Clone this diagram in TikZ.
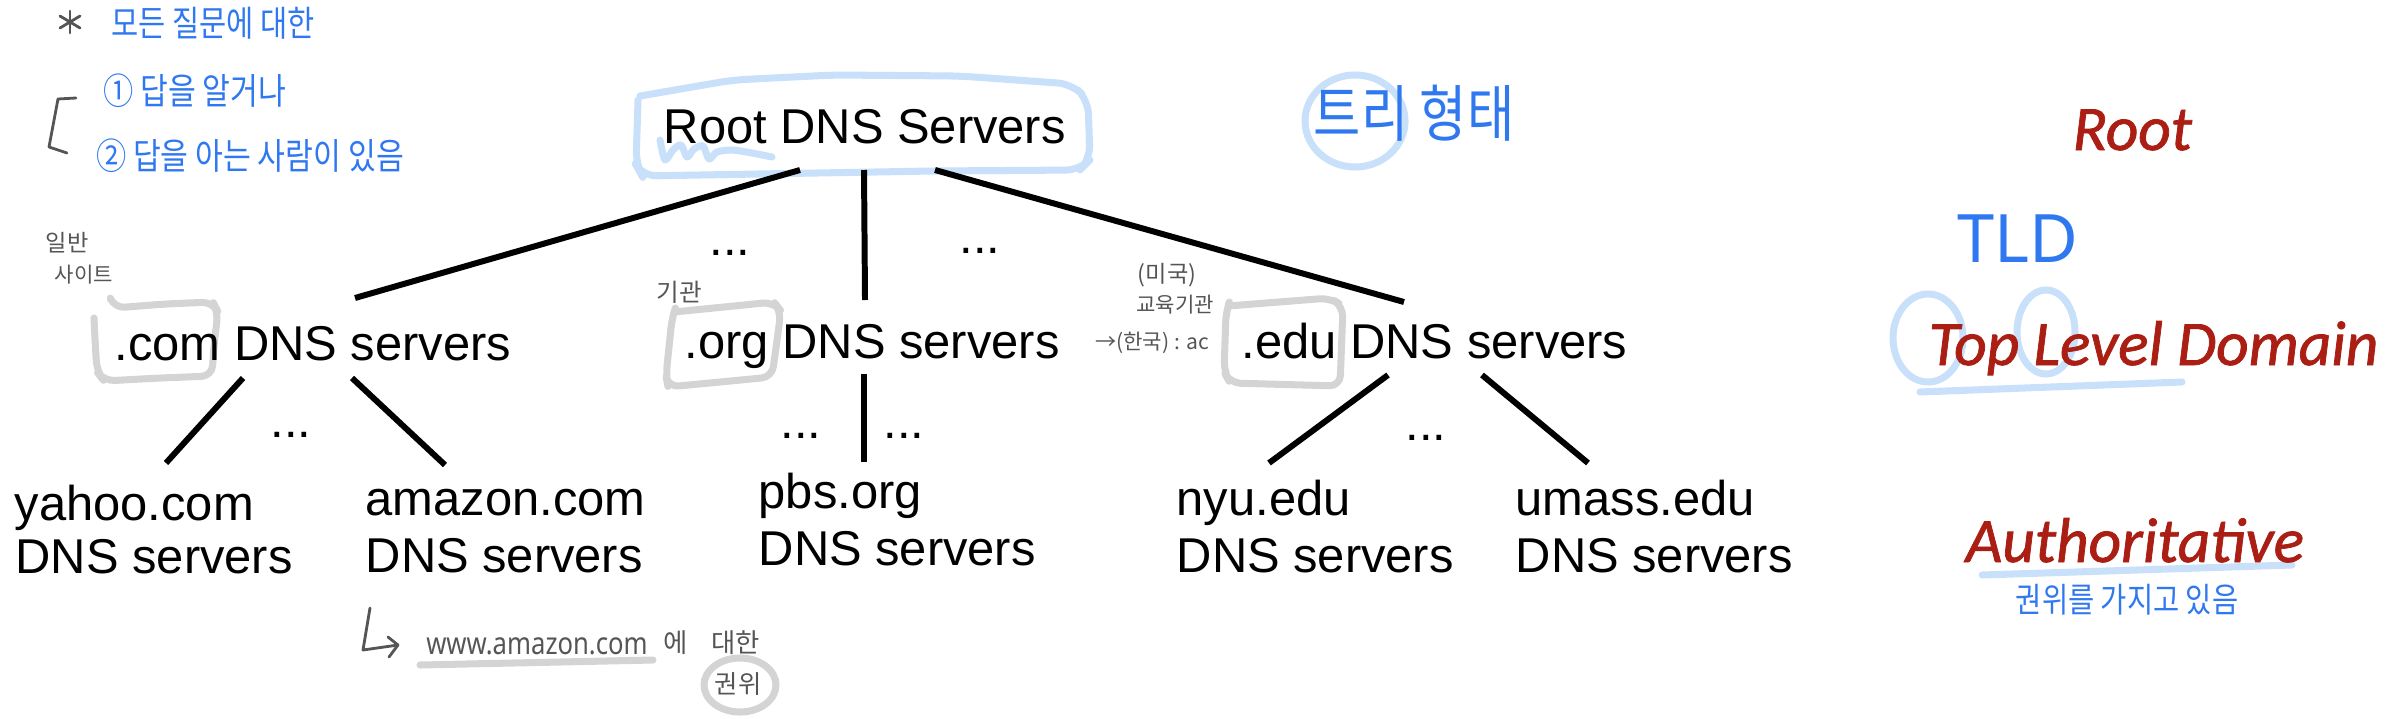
\documentclass[tikz,border=0pt]{standalone}
\usepackage{fontspec}
\setmainfont{Liberation Sans}
\newfontfamily\kr{Noto Sans CJK KR}
\newfontfamily\carlsemi{Carlito}[FakeBold=1.2]
\newfontfamily\nsans{Noto Sans}
\usetikzlibrary{calc}
\definecolor{pen}{RGB}{47,120,240}
\definecolor{hl}{RGB}{200,224,250}
\definecolor{gpen}{RGB}{85,85,85}
\definecolor{ghl}{RGB}{212,212,212}
\definecolor{dred}{RGB}{170,30,20}
\newcommand\tallnote[1]{\scalebox{1}[1.2]{#1}}
\tikzset{
  lbl/.style={inner sep=0pt, anchor=base west, font=\fontsize{13.9}{16}\selectfont},
  dots/.style={inner sep=0pt, anchor=base, font=\fontsize{13.9}{16}\selectfont},
  conn/.style={line width=1.7pt},
  redlbl/.style={inner sep=0pt, anchor=base west, text=dred, font=\carlsemi\itshape\fontsize{18}{20}\selectfont},
  bnote/.style={inner sep=0pt, text=pen},
  gnote/.style={inner sep=0pt, text=gpen},
  hil/.style={draw=hl, line width=2pt, line cap=round, line join=round},
  ghil/.style={draw=ghl, line width=2pt, line cap=round, line join=round},
  penline/.style={draw=gpen, line width=0.8pt, line cap=round, line join=round},
}
\begin{document}
\begin{tikzpicture}[x=0.01cm,y=-0.01cm]
\useasboundingbox (0,0) rectangle (2398,718);

% ---------- highlighter strokes (behind text) ----------
\draw[hil, rounded corners=4pt] (640,96) -- (733,80) -- (833,75) -- (960,76) -- (1072,84) -- (1088,100) -- (1090,160) -- (1080,170) -- (933,171) -- (642,176) -- (636,165) -- (638,100);
\draw[hil] plot[smooth] coordinates {(660,140) (665,160) (673,150) (681,145) (687,157) (694,149) (703,146) (709,159) (717,152) (732,150) (752,153) (772,157)};
\draw[hil] (1355,121) ellipse [x radius=50, y radius=46];
\draw[hil] (1928,338) ellipse [x radius=35, y radius=44];
\draw[hil] (2046,332) ellipse [x radius=29, y radius=42];
\draw[hil] (1920,392) -- (2182,382);
\draw[hil] (1982,575) -- (2292,565);

\draw[ghil, rounded corners=3pt] (111,300) -- (114,308) -- (165,304) -- (213,302) -- (218,312) -- (214,345) -- (212,376) -- (160,378) -- (104,381) -- (97,372) -- (95,340) -- (94,318);
\draw[ghil, rounded corners=3pt] (674,312) -- (774,302) -- (781,311) -- (772,377) -- (668,387) -- (666,376) -- (672,318) -- (674,312);
\draw[ghil, rounded corners=3pt] (1228,306) -- (1330,298) -- (1343,306) -- (1340,386) -- (1230,383) -- (1224,372) -- (1226,312) -- (1228,306);
\draw[ghil] (420,665) -- (653,660);
\draw[ghil] (740,685) ellipse [x radius=36, y radius=27];

% ---------- main labels ----------
\node[lbl] (root) at (663,143) {Root DNS Servers};
\node[lbl] (com) at (114,360) {.com DNS servers};
\node[lbl] (org) at (684,358) {.org DNS servers};
\node[lbl] (edu) at (1241,358) {.edu DNS servers};

\node[lbl] (yahoo) at (14,520) {yahoo.com};
\node[lbl] (yahoob) at (15,573) {DNS servers};
\node[lbl] (amazon) at (365,515) {amazon.com};
\node[lbl] (amazonb) at (365,572) {DNS servers};
\node[lbl] (pbs) at (758,508) {pbs.org};
\node[lbl] (pbsb) at (758,565) {DNS servers};
\node[lbl] (nyu) at (1176,515) {nyu.edu};
\node[lbl] (nyub) at (1176,572) {DNS servers};
\node[lbl] (umass) at (1515,515) {umass.edu};
\node[lbl] (umassb) at (1515,572) {DNS servers};

\node[dots] (d1) at (730,255) {...};
\node[dots] (d2) at (980,253) {...};
\node[dots] (d3) at (291,437) {...};
\node[dots] (d4) at (801,438) {...};
\node[dots] (d5) at (904,438) {...};
\node[dots] (d6) at (1426,440) {...};

% ---------- connectors ----------
\draw[conn] ($(root.base west)+(137,27)$) -- ($(com.base west)+(241,-62)$);
\draw[conn] ($(root.base west)+(201,27)$) -- ($(org.base west)+(181,-58)$);
\draw[conn] ($(root.base west)+(272,27)$) -- ($(edu.base west)+(163,-56)$);
\draw[conn] ($(com.base west)+(129,18)$) -- ($(yahoo.base west)+(152,-57)$);
\draw[conn] ($(com.base west)+(238,18)$) -- ($(amazon.base west)+(80,-50)$);
\draw[conn] ($(org.base west)+(180,16)$) -- ($(pbs.base west)+(106,-46)$);
\draw[conn] ($(edu.base west)+(147,17)$) -- ($(nyu.base west)+(93,-52)$);
\draw[conn] ($(edu.base west)+(241,17)$) -- ($(umass.base west)+(73,-52)$);

% ---------- right-hand labels ----------
\node[redlbl] (lroot) at (2072,150) {Root};
\node[redlbl] (ltld) at (1928,365) {Top Level Domain};
\node[redlbl] (lauth) at (1965,562) {Authoritative};
\node[bnote, font=\nsans\fontsize{19}{22}\selectfont] (tld) at (2018,239) {TLD};
\node[bnote, font=\kr\fontsize{8.1}{10}\selectfont] (kwon) at (2127,600) {\tallnote{권위를 가지고 있음}};
\node[bnote, font=\kr\fontsize{14.6}{16}\selectfont] (tree) at (1414,113) {\tallnote{트리 형태}};

% ---------- top-left notes ----------
\draw[penline] (70,11) -- (70,33);
\draw[penline] (60,16) -- (80,28);
\draw[penline] (60,28) -- (80,16);
\node[bnote, font=\kr\fontsize{8.4}{10}\selectfont] (n0) at (213,23) {\tallnote{모든 질문에 대한}};
\node[bnote, font=\kr\fontsize{8.6}{10}\selectfont] (n1) at (195,91) {\tallnote{① 답을 알거나}};
\node[bnote, font=\kr\fontsize{8.6}{10}\selectfont] (n2) at (250,156) {\tallnote{② 답을 아는 사람이 있음}};
\draw[penline] (76,98) -- (58,99) -- (49,147) -- (67,153);

% ---------- grey notes ----------
\node[gnote, font=\kr\fontsize{6.6}{8}\selectfont] (ilban) at (67,243) {일반};
\node[gnote, font=\kr\fontsize{6}{8}\selectfont] (site) at (84,275) {사이트};
\node[gnote, font=\kr\fontsize{7}{8}\selectfont] (gigwan) at (679,292) {기관};
\node[gnote, font=\kr\fontsize{6.6}{8}\selectfont] (migook) at (1167,275) {(미국)};
\node[gnote, font=\kr\fontsize{6}{8}\selectfont] (gyoyuk) at (1175,305) {교육기관};
\node[gnote, font=\kr\fontsize{6}{8}\selectfont] (hanguk) at (1152,343) {→(한국) : ac};

\draw[penline] (370,608) -- (363,650) -- (398,645);
\draw[penline] (388,637) -- (398,645) -- (389,657);
\node[gnote, font=\nsans\fontsize{7.3}{9}\selectfont] (www) at (537,646) {\tallnote{www.amazon.com}};
\node[gnote, font=\kr\fontsize{7.5}{9}\selectfont, anchor=west] (daehan) at (663,643) {에\hspace{0.9em}대한};
\node[gnote, font=\kr\fontsize{7.2}{9}\selectfont] (kw) at (738,684) {권위};
\end{tikzpicture}
\end{document}
